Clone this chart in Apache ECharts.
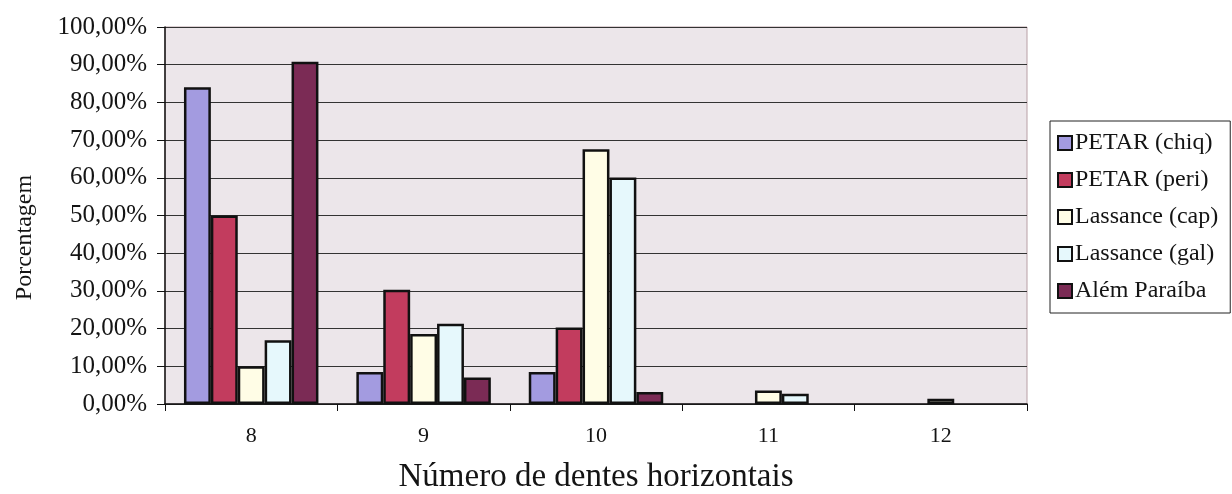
<!DOCTYPE html>
<html>
<head>
<meta charset="utf-8">
<script src="https://cdn.jsdelivr.net/npm/echarts@6/dist/echarts.min.js"></script>
<style>
html,body{margin:0;padding:0;background:#ffffff;}
#chart{width:1232px;height:494px;}
</style>
</head>
<body>
<div id="chart"></div>
<script>
const categories = ['8', '9', '10', '11', '12'];
const seriesNames = ['PETAR (chiq)', 'PETAR (peri)', 'Lassance (cap)', 'Lassance (gal)', 'Além Paraíba'];
const petarChiq = [84.0, 8.5, 8.5, 0, 0];
const petarPeri = [50.0, 30.3, 20.3, 0, 0];
const lassanceCap = [10.0, 18.6, 67.6, 3.6, 1.4];
const lassanceGal = [16.9, 21.3, 60.1, 2.7, 0];
const alemParaiba = [90.8, 7.0, 3.2, 0, 0];
const yTicks = [0, 10, 20, 30, 40, 50, 60, 70, 80, 90, 100];

const colors = ['#a39be0', '#c23c5e', '#fffde6', '#e6f8fc', '#7b2b55'];
const allValues = [petarChiq, petarPeri, lassanceCap, lassanceGal, alemParaiba];

const FONT = '"Liberation Serif", "DejaVu Serif", serif';
const INK = '#141414';

const chart = echarts.init(document.getElementById('chart'), null, {renderer: 'canvas'});

const series = seriesNames.map((name, i) => ({
  name: name,
  type: 'bar',
  data: allValues[i].map(v => v === 0 ? '-' : v),
  barGap: '0%',
  barCategoryGap: '22%',
  itemStyle: {color: colors[i], borderColor: '#111', borderWidth: 2.5},
  emphasis: {disabled: true}
}));

chart.setOption({
  animation: false,
  textStyle: {fontFamily: FONT, color: INK},
  grid: {
    left: 165, right: 205, top: 27, bottom: 90,
    containLabel: false,
    outerBoundsMode: 'none',
    show: true, backgroundColor: '#ece6ea', borderColor: '#b9a0a6', borderWidth: 1
  },
  legend: {
    orient: 'vertical',
    left: 1050, top: 121,
    padding: [10, 12, 10, 7],
    itemGap: 13,
    itemWidth: 14, itemHeight: 14,
    icon: 'rect',
    backgroundColor: '#ffffff',
    borderColor: '#222', borderWidth: 1,
    textStyle: {fontFamily: FONT, fontSize: 24, color: INK, padding: [0, 0, 0, -2]},
    itemStyle: {borderColor: '#111', borderWidth: 2},
    data: seriesNames
  },
  xAxis: {
    type: 'category',
    data: categories,
    name: 'Número de dentes horizontais',
    nameLocation: 'middle',
    nameGap: 57,
    nameTextStyle: {fontFamily: FONT, fontSize: 33, color: INK},
    axisLine: {lineStyle: {color: '#111', width: 1.5}},
    axisTick: {show: true, length: 7, lineStyle: {color: '#111'}},
    axisLabel: {fontFamily: FONT, fontSize: 22, color: INK, margin: 21}
  },
  yAxis: {
    type: 'value',
    min: yTicks[0], max: yTicks[yTicks.length - 1], interval: 10,
    name: 'Porcentagem',
    nameLocation: 'middle',
    nameGap: 128,
    nameRotate: 90,
    nameTextStyle: {fontFamily: FONT, fontSize: 24, color: INK, padding: [0, 44, 0, 0]},
    axisLine: {show: true, lineStyle: {color: '#111', width: 1.5}},
    axisTick: {show: true, length: 8, lineStyle: {color: '#111'}},
    axisLabel: {
      fontFamily: FONT, fontSize: 25, color: INK, margin: 18,
      formatter: v => v.toFixed(2).replace('.', ',') + '%'
    },
    splitLine: {show: true, lineStyle: {color: '#333', width: 1.2}}
  },
  series: series
});
</script>
</body>
</html>
